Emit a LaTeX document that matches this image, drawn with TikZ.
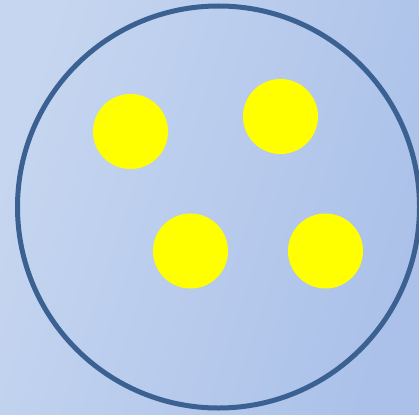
\documentclass[tikz,border=0pt]{standalone}
\definecolor{bgtop}{HTML}{C6D6F0}
\definecolor{bgbot}{HTML}{ABC1E9}
\definecolor{rimblue}{HTML}{3B6192}
\definecolor{dotyellow}{HTML}{FFFF00}
\tikzset{
  ball/.style={fill=dotyellow, draw=none},
  rim/.style={draw=rimblue, line width=5pt},
}
\begin{document}
\begin{tikzpicture}[x=1pt, y=-1pt]
    \useasboundingbox (0,0) rectangle (419,414);
    \clip (0,0) rectangle (419,414);
    % background
    \shade[top color=bgtop, bottom color=bgbot, shading angle=72] (0,0) rectangle (419,414);
    % outer circle
    \draw[rim] (218.5,207) circle (201);
    % yellow dots
    \fill[ball] (130.5,131.5) circle (37.5);
    \fill[ball] (280.5,116.5) circle (37.5);
    \fill[ball] (190.5,251) circle (37.5);
    \fill[ball] (325.5,251) circle (37.5);
\end{tikzpicture}
\end{document}
